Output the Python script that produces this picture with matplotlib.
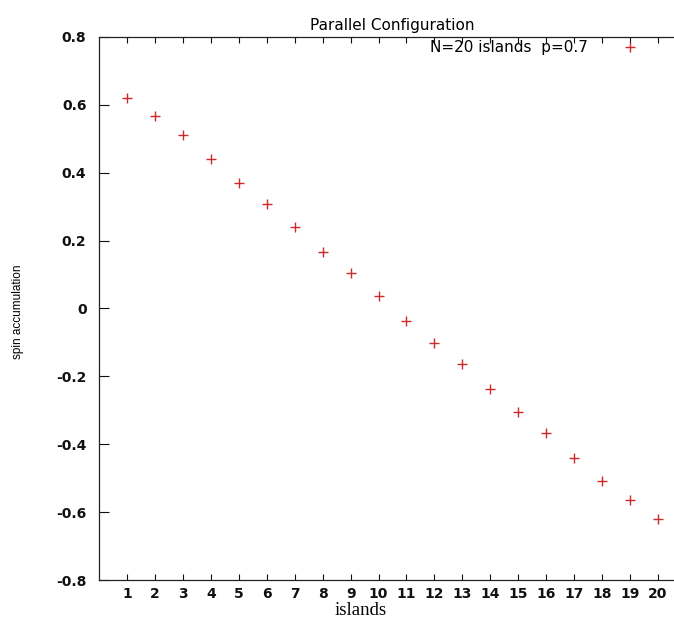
import numpy as np
import matplotlib
matplotlib.use('Agg')
import matplotlib.pyplot as plt

# data
islands = list(range(1, 21))
spin = [0.620, 0.566, 0.511, 0.441, 0.369, 0.307, 0.241, 0.166, 0.104, 0.038,
        -0.037, -0.102, -0.164, -0.238, -0.306, -0.368, -0.440, -0.509, -0.565, -0.620]
yticks = [-0.8, -0.6, -0.4, -0.2, 0.0, 0.2, 0.4, 0.6, 0.8]
ytick_labels = ['-0.8', '-0.6', '-0.4', '-0.2', '0', '0.2', '0.4', '0.6', '0.8']
xtick_labels = [str(i) for i in islands]

W, H = 674, 620
fig = plt.figure(figsize=(W / 100, H / 100), dpi=100)
# right frame of the original sits past the image edge
ax = fig.add_axes([99 / W, 1 - 580 / H, (686 - 99) / W, (580 - 37) / H])

ax.plot(islands, spin, linestyle='none', marker='+', markersize=7,
        markeredgewidth=1.0, color='#cc2a2a', label='N=20 islands  p=0.7')

ax.set_xlim(0, 21)
ax.set_ylim(-0.8, 0.8)

tickfont = dict(family='DejaVu Sans', weight='bold', size=10)
ax.set_xticks(islands)
ax.set_xticklabels(xtick_labels, fontdict=tickfont)
ax.set_yticks(yticks)
ax.set_yticklabels(ytick_labels, fontdict=tickfont)
ax.tick_params(axis='x', direction='in', length=4.5, width=0.8, top=True, pad=5, colors='#111111')
ax.tick_params(axis='y', direction='in', length=7, width=0.8, right=True, pad=9, colors='#111111')
for sp in ax.spines.values():
    sp.set_linewidth(0.9)
    sp.set_color('#222222')

ax.set_title('Parallel Configuration', family='DejaVu Sans', size=11, pad=5)

fig.text(361 / W, 1 - 610.5 / H, 'islands', family='Liberation Serif', size=13.5,
         ha='center', va='center')
fig.text(18 / W, 1 - 312 / H, 'spin accumulation', family='Liberation Sans', size=8.5,
         rotation=90, ha='center', va='center')

leg = ax.legend(loc='upper right', bbox_to_anchor=(651 / W, 1 - 34 / H),
                bbox_transform=fig.transFigure, frameon=False, markerfirst=False,
                handlelength=2, handletextpad=1.75, borderaxespad=0,
                prop=dict(family='DejaVu Sans', size=11))

fig.savefig('out.png', dpi=100)
